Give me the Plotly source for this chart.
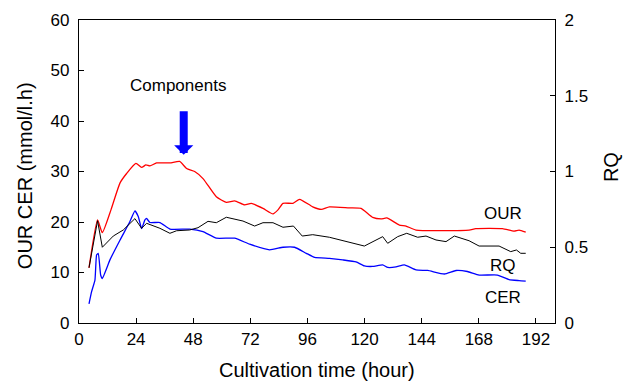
import plotly.graph_objects as go

# OUR (mmol/l.h)
our_t = [4.2, 7.8, 9.8, 13.5, 17.2, 20.0, 23.9, 26.3, 28.1, 29.8, 32.6, 38.2, 42.3, 45.2, 48.6, 52.1,
         57.7, 61.9, 65.4, 69.6, 72.4, 77.3, 81.5, 83.6, 85.7, 89.9, 92.7, 98.2, 101.8, 105.2, 113.6,
         118.5, 123.4, 126.9, 129.3, 134.6, 137.4, 141.6, 163.9, 166.7, 177.9, 182.8, 184.9, 187.7]
our_v = [10.9, 20.4, 17.9, 22.5, 27.7, 29.6, 31.6, 30.8, 31.3, 31.1, 31.7, 31.7, 32.0, 30.6, 30.0, 28.6,
         25.0, 23.9, 24.2, 23.4, 23.7, 22.7, 21.6, 22.4, 23.7, 23.7, 24.5, 23.0, 22.5, 23.0, 22.8,
         22.7, 20.9, 20.6, 20.8, 19.4, 19.2, 18.4, 18.4, 18.7, 18.7, 18.2, 18.4, 18.0]

# CER (mmol/l.h)
cer_t = [4.2, 5.3, 6.7, 7.4, 8.1, 9.1, 9.8, 13.0, 17.2, 21.4, 23.5, 24.9, 26.3, 27.7, 28.4, 29.8, 34.0,
         38.2, 46.5, 52.1, 57.7, 65.4, 71.7, 80.1, 85.7, 90.6, 95.5, 99.0, 105.2, 110.8, 116.4, 119.9,
         123.4, 127.6, 129.7, 133.2, 136.7, 141.6, 146.5, 153.5, 158.4, 163.2, 168.1, 175.8, 180.7,
         184.9, 187.7]
cer_v = [3.8, 6.2, 8.5, 13.5, 13.8, 9.5, 8.8, 12.5, 16.4, 20.1, 22.2, 21.1, 18.7, 20.4, 20.7, 19.9, 19.9,
         18.6, 18.6, 18.1, 16.8, 16.8, 15.6, 14.5, 15.0, 15.0, 13.8, 13.0, 12.8, 12.5, 12.1, 11.3,
         11.2, 11.5, 11.0, 11.1, 11.5, 10.5, 10.4, 9.7, 10.4, 10.2, 9.5, 9.5, 8.6,
         8.4, 8.3]

# RQ (-)
rq_t = [4.2, 7.8, 9.8, 14.4, 18.6, 23.5, 26.3, 28.4, 34.0, 38.2, 41.0, 46.5, 50.0, 54.2, 57.7, 61.9,
        68.9, 73.8, 77.3, 81.5, 85.7, 90.1, 93.8, 98.2, 105.2, 112.9, 119.9, 127.6, 129.7, 133.9,
        137.7, 142.3, 145.8, 150.0, 154.2, 157.7, 163.9, 168.1, 176.5, 181.4, 183.8, 185.6, 187.7]
rq_v = [0.365, 0.675, 0.50, 0.574, 0.614, 0.689, 0.625, 0.658, 0.625, 0.592, 0.609, 0.614, 0.629, 0.671,
        0.662, 0.698, 0.673, 0.640, 0.662, 0.662, 0.632, 0.640, 0.574, 0.583, 0.566, 0.537, 0.508,
        0.570, 0.526, 0.570, 0.592, 0.566, 0.574, 0.548, 0.537, 0.574, 0.543, 0.508, 0.508, 0.471,
        0.482, 0.460, 0.460]

x_ticks = [0, 24, 48, 72, 96, 120, 144, 168, 192]
y_ticks = [0, 10, 20, 30, 40, 50, 60]
rq_ticks = [0, 0.5, 1, 1.5, 2]
rq_ticktext = ["0", "0.5", "1", "1.5", "2"]

FONT = "Liberation Sans, Arial, Helvetica, sans-serif"

fig = go.Figure()
fig.add_trace(go.Scatter(x=our_t, y=our_v, mode="lines",
                         line=dict(color="#ff0000", width=1.3, shape="spline", smoothing=0.5),
                         showlegend=False, name="OUR"))
fig.add_trace(go.Scatter(x=rq_t, y=rq_v, mode="lines", line=dict(color="#000000", width=1),
                         yaxis="y2", showlegend=False, name="RQ"))
fig.add_trace(go.Scatter(x=cer_t, y=cer_v, mode="lines",
                         line=dict(color="#0000ff", width=1.3, shape="spline", smoothing=0.4),
                         showlegend=False, name="CER"))

axis_common = dict(showline=True, linecolor="black", linewidth=1.3, ticks="inside", ticklen=5,
                   tickcolor="black", tickwidth=1, showgrid=False, zeroline=False,
                   tickfont=dict(size=17, color="black", family=FONT))

fig.update_layout(
    width=625, height=381,
    margin=dict(l=79, r=70, t=20, b=58),
    paper_bgcolor="white", plot_bgcolor="white",
    font=dict(family=FONT, color="black"),
    xaxis=dict(range=[0, 200], tickvals=x_ticks, mirror=True, **axis_common),
    yaxis=dict(range=[0, 60], tickvals=y_ticks, ticklabelstandoff=5, **axis_common),
    yaxis2=dict(range=[0, 2], tickvals=rq_ticks, ticktext=rq_ticktext, overlaying="y", side="right",
                ticklabelstandoff=5, **axis_common),
    annotations=[
        dict(x=41.6, y=47.1, text="Components", showarrow=False, font=dict(size=17)),
        dict(x=44, y=33.3, text="", showarrow=True, ax=0, ay=-45, arrowhead=1, arrowsize=0.4,
             arrowwidth=8, arrowcolor="#0000ff", standoff=0),
        dict(x=178.2, y=21.6, text="OUR", showarrow=False, font=dict(size=17)),
        dict(x=178.2, y=11.3, text="RQ", showarrow=False, font=dict(size=17)),
        dict(x=178.2, y=5.1, text="CER", showarrow=False, font=dict(size=17)),
        # axis titles
        dict(xref="paper", yref="paper", x=0.5, y=-0.155, yanchor="middle", xanchor="center",
             text="Cultivation time (hour)", showarrow=False, font=dict(size=20)),
        dict(xref="paper", yref="paper", x=-0.112, y=0.487, xanchor="center", yanchor="middle",
             textangle=-90, text="OUR CER (mmol/l.h)", showarrow=False, font=dict(size=20)),
        dict(xref="paper", yref="paper", x=1.118, y=0.515, xanchor="center", yanchor="middle",
             textangle=-90, text="RQ", showarrow=False, font=dict(size=20)),
    ],
)

fig.write_html("out.html")
